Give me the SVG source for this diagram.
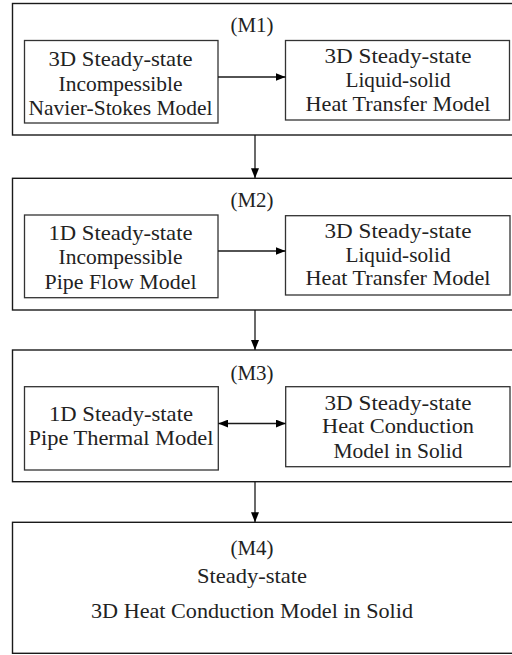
<svg xmlns="http://www.w3.org/2000/svg" width="512" height="655" viewBox="0 0 512 655">
  <style>
    .outer { fill: #fff; stroke: #1a1a1a; stroke-width: 1.4; }
    .inner { fill: #fff; stroke: #333; stroke-width: 1.3; }
    .conn { stroke: #1a1a1a; stroke-width: 1.3; fill: none; }
  </style>
  <defs>
    <marker id="arrow" viewBox="0 0 10 8" refX="10" refY="4" markerWidth="10" markerHeight="8" markerUnits="userSpaceOnUse" orient="auto-start-reverse">
      <path d="M0,0 L10,4 L0,8 Z" fill="#000"/>
    </marker>
  </defs>

  <rect width="512" height="655" fill="#fff"/>

  <!-- M1 -->
  <g id="m1">
    <rect class="outer" x="12.5" y="3.5" width="510" height="131.5"/>
    <text x="252" y="31.7" font-family="'Liberation Serif', serif" font-size="22" fill="#222" text-anchor="middle" textLength="43" lengthAdjust="spacingAndGlyphs">(M1)</text>
  </g>
  <g id="m1-ns" font-family="'Liberation Serif', serif" font-size="22" fill="#222" text-anchor="middle">
    <rect class="inner" x="24.5" y="40.5" width="193.5" height="82.5"/>
    <text x="120.5" y="65.7" font-family="'Liberation Serif', serif" textLength="144" lengthAdjust="spacingAndGlyphs">3D Steady-state</text>
    <text x="120.5" y="90.5" font-family="'Liberation Serif', serif" textLength="124" lengthAdjust="spacingAndGlyphs">Incompessible</text>
    <text x="120.5" y="115" font-family="'Liberation Serif', serif" textLength="184" lengthAdjust="spacingAndGlyphs">Navier-Stokes Model</text>
  </g>
  <g id="m1-ht" font-family="'Liberation Serif', serif" font-size="22" fill="#222" text-anchor="middle">
    <rect class="inner" x="285.5" y="40.5" width="224" height="79.5"/>
    <text x="398" y="63.3" font-family="'Liberation Serif', serif" textLength="147" lengthAdjust="spacingAndGlyphs">3D Steady-state</text>
    <text x="398" y="87.3" font-family="'Liberation Serif', serif" textLength="105" lengthAdjust="spacingAndGlyphs">Liquid-solid</text>
    <text x="398" y="110.7" font-family="'Liberation Serif', serif" textLength="185" lengthAdjust="spacingAndGlyphs">Heat Transfer Model</text>
  </g>

  <!-- M2 -->
  <g id="m2">
    <rect class="outer" x="12.5" y="178.3" width="510" height="131.7"/>
    <text x="252" y="206.7" font-family="'Liberation Serif', serif" font-size="22" fill="#222" text-anchor="middle" textLength="43" lengthAdjust="spacingAndGlyphs">(M2)</text>
  </g>
  <g id="m2-pf" font-family="'Liberation Serif', serif" font-size="22" fill="#222" text-anchor="middle">
    <rect class="inner" x="24.5" y="215" width="193.5" height="82.7"/>
    <text x="120.5" y="240" font-family="'Liberation Serif', serif" textLength="144" lengthAdjust="spacingAndGlyphs">1D Steady-state</text>
    <text x="120.5" y="264.3" font-family="'Liberation Serif', serif" textLength="124" lengthAdjust="spacingAndGlyphs">Incompessible</text>
    <text x="120.5" y="289" font-family="'Liberation Serif', serif" textLength="152" lengthAdjust="spacingAndGlyphs">Pipe Flow Model</text>
  </g>
  <g id="m2-ht" font-family="'Liberation Serif', serif" font-size="22" fill="#222" text-anchor="middle">
    <rect class="inner" x="285.5" y="215.7" width="224.5" height="79.3"/>
    <text x="398" y="238.3" font-family="'Liberation Serif', serif" textLength="147" lengthAdjust="spacingAndGlyphs">3D Steady-state</text>
    <text x="398" y="261.7" font-family="'Liberation Serif', serif" textLength="105" lengthAdjust="spacingAndGlyphs">Liquid-solid</text>
    <text x="398" y="285" font-family="'Liberation Serif', serif" textLength="185" lengthAdjust="spacingAndGlyphs">Heat Transfer Model</text>
  </g>

  <!-- M3 -->
  <g id="m3">
    <rect class="outer" x="12.5" y="350" width="510" height="131.7"/>
    <text x="252" y="380" font-family="'Liberation Serif', serif" font-size="22" fill="#222" text-anchor="middle" textLength="43" lengthAdjust="spacingAndGlyphs">(M3)</text>
  </g>
  <g id="m3-pt" font-family="'Liberation Serif', serif" font-size="22" fill="#222" text-anchor="middle">
    <rect class="inner" x="24.5" y="386.7" width="193.8" height="83.3"/>
    <text x="121" y="421" font-family="'Liberation Serif', serif" textLength="144" lengthAdjust="spacingAndGlyphs">1D Steady-state</text>
    <text x="121" y="445" font-family="'Liberation Serif', serif" textLength="185" lengthAdjust="spacingAndGlyphs">Pipe Thermal Model</text>
  </g>
  <g id="m3-hc" font-family="'Liberation Serif', serif" font-size="22" fill="#222" text-anchor="middle">
    <rect class="inner" x="285.7" y="386.7" width="224.3" height="80"/>
    <text x="398" y="410" font-family="'Liberation Serif', serif" textLength="147" lengthAdjust="spacingAndGlyphs">3D Steady-state</text>
    <text x="398" y="433.3" font-family="'Liberation Serif', serif" textLength="152" lengthAdjust="spacingAndGlyphs">Heat Conduction</text>
    <text x="398" y="458.3" font-family="'Liberation Serif', serif" textLength="129" lengthAdjust="spacingAndGlyphs">Model in Solid</text>
  </g>

  <!-- M4 -->
  <g id="m4" font-family="'Liberation Serif', serif" font-size="22" fill="#222" text-anchor="middle">
    <rect class="outer" x="12.5" y="522.3" width="510" height="131"/>
    <text x="252" y="555" font-family="'Liberation Serif', serif" textLength="43" lengthAdjust="spacingAndGlyphs">(M4)</text>
    <text x="252" y="583" font-family="'Liberation Serif', serif" textLength="110" lengthAdjust="spacingAndGlyphs">Steady-state</text>
    <text x="252" y="618" font-family="'Liberation Serif', serif" textLength="322" lengthAdjust="spacingAndGlyphs">3D Heat Conduction Model in Solid</text>
  </g>

  <!-- connectors -->
  <g id="connectors">
    <line class="conn" x1="218" y1="77" x2="285.5" y2="77" marker-end="url(#arrow)"/>
    <line class="conn" x1="218" y1="251" x2="285.5" y2="251" marker-end="url(#arrow)"/>
    <line class="conn" x1="218.3" y1="423.5" x2="285.7" y2="423.5" marker-start="url(#arrow)" marker-end="url(#arrow)"/>
    <line class="conn" x1="255" y1="135" x2="255" y2="178.3" marker-end="url(#arrow)"/>
    <line class="conn" x1="255" y1="310" x2="255" y2="350" marker-end="url(#arrow)"/>
    <line class="conn" x1="255" y1="481.7" x2="255" y2="522.3" marker-end="url(#arrow)"/>
  </g>
</svg>
